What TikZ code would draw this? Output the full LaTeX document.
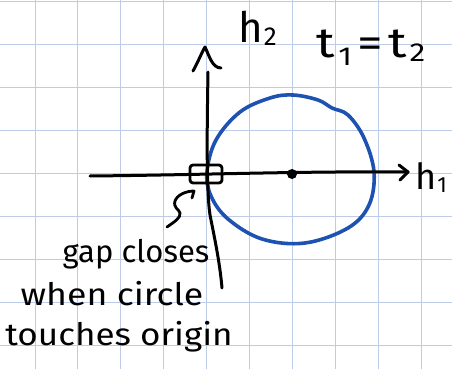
\documentclass[tikz,border=0pt]{standalone}
\usepackage{fontspec}
\setmainfont{Fira Sans}
\definecolor{gridblue}{RGB}{188,204,232}
\definecolor{penblue}{RGB}{30,82,178}
\begin{document}
\begin{tikzpicture}[x=1pt,y=-1pt,
  pen/.style={line width=3pt,line cap=round,line join=round,black},
  bluepen/.style={line width=3.6pt,line cap=round,line join=round,penblue},
  hand/.style={font=\fontsize{31}{33}\selectfont,inner sep=0pt},
  big/.style={font=\fontsize{42}{44}\selectfont,inner sep=0pt}]
\useasboundingbox (0,0) rectangle (452,369);
\fill[white] (0,0) rectangle (452,369);
% grid
\foreach \i in {0,...,9}{\draw[gridblue,line width=1pt] ({35+42.9*\i},0) -- ({35+42.9*\i},369);}
\foreach \j in {0,...,8}{\draw[gridblue,line width=1pt] (0,{2+42.9*\j}) -- (452,{2+42.9*\j});}
% circle
\draw[bluepen] plot[smooth cycle,tension=0.6] coordinates {(207,172) (216,140) (240,112) (270,98) (293,95) (318,100) (332,108) (348,115) (364,138) (374,172) (369,205) (348,228) (305,243) (262,239) (228,219) (211,196)};
% axes
\coordinate (hl) at (90,176);
\coordinate (hr) at (408,172);
\draw[pen] (hl) .. controls (200,175) and (300,171) .. (hr);
\draw[pen] (399,165) -- (hr) -- (400,180);
\coordinate (vt) at (208,72);
\coordinate (vb) at (222,288);
\draw[pen] (vt) .. controls (207,130) and (206,200) .. (211,220) .. controls (216,245) and (220,265) .. (vb);
\draw[pen] (193,71) .. controls (198,62) and (202,52) .. (205,47) .. controls (209,55) and (212,68) .. (221,68);
% origin box
\draw[pen,line width=2.8pt,rounded corners=3pt] (190,165) rectangle (222,183);
% center dot
\fill (292,174) circle (5);
% squiggle pointer
\draw[pen,line width=2.8pt] (167,227) .. controls (174,222) and (181,218) .. (180,213) .. controls (179,209) and (173,208) .. (175,201) .. controls (177,195) and (186,191) .. (194,191) -- (192,198);
% labels
\node[big,anchor=base west] (h2) at (238,42) {h\kern1pt\raisebox{-4pt}{\fontsize{26}{26}\selectfont 2}};
\node[big,anchor=base west,xscale=1.22] (tt) at (316,58) {t\kern3pt\raisebox{-8pt}{\fontsize{26}{26}\selectfont 1}\kern4pt=\kern5pt t\kern2pt\raisebox{-4pt}{\fontsize{26}{26}\selectfont 2}};
\node[font=\fontsize{36}{38}\selectfont,inner sep=0pt,anchor=base west] (h1) at (415,189) {h\kern1pt\raisebox{-3pt}{\fontsize{22}{22}\selectfont 1}};
\node[hand,anchor=base,xscale=1.0] (l1) at (136,262) {gap closes};
\node[hand,anchor=base,xscale=1.15] (l2) at (112,305) {when circle};
\node[hand,anchor=base,xscale=1.13] (l3) at (119,345) {touches origin};
\end{tikzpicture}
\end{document}
